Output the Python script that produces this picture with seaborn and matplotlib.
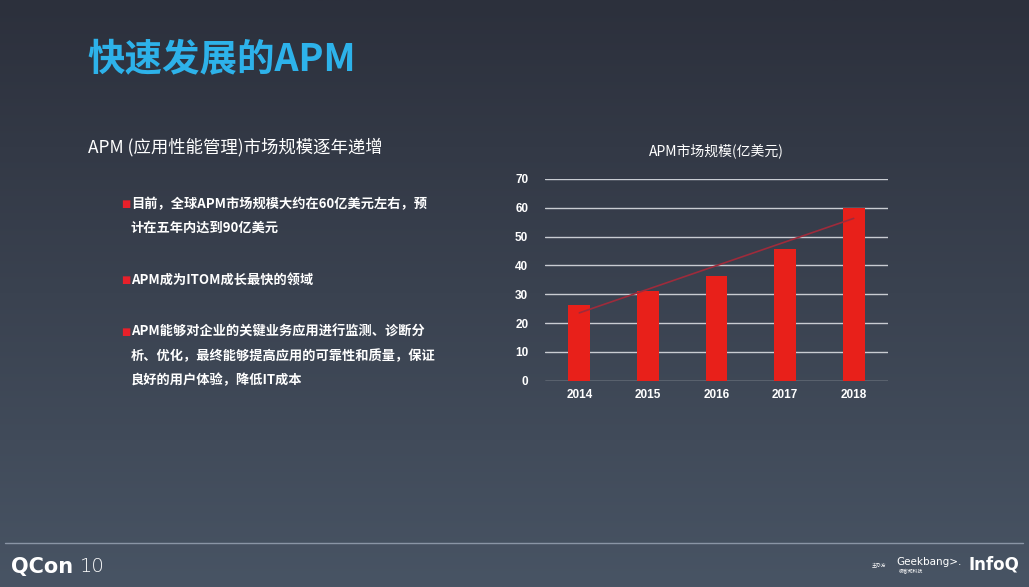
import numpy as np
import pandas as pd
import seaborn as sns
import matplotlib.pyplot as plt
from matplotlib.lines import Line2D

# chart data
years = ["2014", "2015", "2016", "2017", "2018"]
market_size = [26.2, 31.3, 36.5, 45.7, 60.0]
yticks = [0, 10, 20, 30, 40, 50, 60, 70]

page_title = "快速发展的APM"
subtitle = "APM (应用性能管理)市场规模逐年递增"
chart_title = "APM市场规模(亿美元)"
bullets = [
    ["目前，全球APM市场规模大约在60亿美元左右，预", "计在五年内达到90亿美元"],
    ["APM成为ITOM成长最快的领域"],
    ["APM能够对企业的关键业务应用进行监测、诊断分", "析、优化，最终能够提高应用的可靠性和质量，保证", "良好的用户体验，降低IT成本"],
]

sns.set_theme(style="white")
plt.rcParams["font.family"] = ["Noto Sans CJK SC", "DejaVu Sans"]

fig = plt.figure(figsize=(10.29, 5.87), dpi=100)

# gradient background
bg = fig.add_axes([0, 0, 1, 1], zorder=-10)
top = np.array([44, 48, 60]) / 255
bot = np.array([72, 84, 100]) / 255
t = np.linspace(0, 1, 256)[:, None]
grad = top[None, :] * (1 - t) + bot[None, :] * t
bg.imshow(grad[:, None, :].repeat(2, axis=1), aspect="auto", extent=[0, 1, 0, 1])
bg.set_axis_off()

W, H = 1029, 587


def fx(px):
    return px / W


def fy(py):
    return 1 - py / H


# headings
fig.text(fx(87), fy(60), page_title, color="#2db2ea", fontsize=27,
         fontweight="black", va="center", ha="left")
fig.text(fx(88), fy(147), subtitle, color="white", fontsize=12.5,
         fontweight="medium", va="center", ha="left")

# bullet text
line_y = 204
for para in bullets:
    for i, line in enumerate(para):
        if i == 0:
            fig.text(fx(121), fy(line_y), "■", color="#e8202a", fontsize=7,
                     va="center", ha="left", family=["DejaVu Sans"])
        fig.text(fx(131), fy(line_y), line, color="white", fontsize=9.5,
                 va="center", ha="left", fontweight="bold")
        line_y += 24
    line_y += 28

# bar chart
df = pd.DataFrame({"year": years, "size": market_size})
ax = fig.add_axes([fx(545), fy(380.7), fx(888 - 545), (380.7 - 179) / H])
ax.patch.set_alpha(0)
sns.barplot(data=df, x="year", y="size", color="#e8201a", saturation=1,
            width=0.32, ax=ax, zorder=3)
for p in ax.patches:
    p.set_edgecolor("none")

ax.set_ylim(0, 70)
ax.set_xlim(-0.5, 4.5)
ax.set_yticks(yticks)
for v in yticks:
    ax.axhline(v, color="#c9ccd2", lw=1, zorder=1)

# linear trend line
xs = np.arange(len(market_size))
k, b = np.polyfit(xs, market_size, 1)
ax.plot(xs, k * xs + b, color="#9e2b3b", lw=1.2, zorder=4)

ax.set_xlabel("")
ax.set_ylabel("")
ax.tick_params(axis="both", colors="white", labelsize=8.5, length=0)
ax.tick_params(axis="y", pad=12)
ax.tick_params(axis="x", pad=6)
for s in ax.spines.values():
    s.set_visible(False)
for lbl in ax.get_xticklabels() + ax.get_yticklabels():
    lbl.set_color("white")
    lbl.set_family(["Liberation Sans"])
    lbl.set_fontweight("bold")
fig.text(fx(716), fy(151), chart_title, color="white", fontsize=10,
         fontweight="medium", va="center", ha="center")

# footer
fig.add_artist(Line2D([fx(5), fx(1023)], [fy(543), fy(543)], color="#8a95a5", lw=1))
fig.text(fx(11), fy(567), "QCon", color="white", fontsize=15, fontweight="bold",
         va="center", ha="left", family=["DejaVu Sans"])
fig.text(fx(80), fy(567), "10", color="white", fontsize=14, fontweight="light",
         va="center", ha="left", family=["DejaVu Sans"])
fig.text(fx(872), fy(566), "主办方", color="white", fontsize=3.5, va="center", ha="left")
fig.text(fx(896), fy(562), "Geekbang>.", color="white", fontsize=7.5,
         va="center", ha="left", family=["DejaVu Sans"])
fig.text(fx(899), fy(572), "极客邦科技", color="white", fontsize=3.5, va="center", ha="left")
fig.text(fx(968), fy(564), "InfoQ", color="white", fontsize=12, fontweight="bold",
         va="center", ha="left", family=["DejaVu Sans"])

fig.savefig("out.png", dpi=100)
